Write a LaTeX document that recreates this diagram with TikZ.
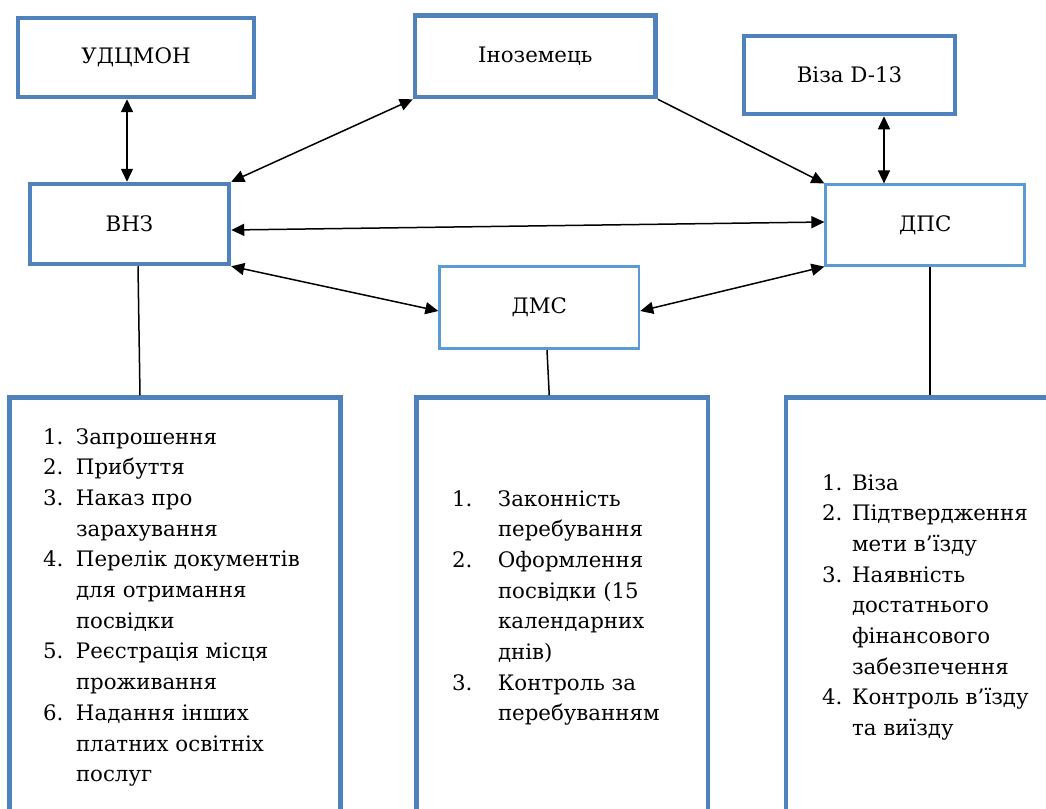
\documentclass[tikz,border=0pt]{standalone}
\usepackage{fontspec}
\newfontfamily\tnr{DejaVu Serif}[Scale=0.82]
\usetikzlibrary{arrows.meta}
\definecolor{thickblue}{HTML}{4F81BD}
\definecolor{thinblue}{HTML}{5B9BD5}
\begin{document}
\begin{tikzpicture}[x=1pt,y=-1pt,
  every node/.style={font=\tnr\fontsize{26}{30.7}\selectfont},
  box/.style={draw=thickblue,line width=4.5pt,rectangle,inner sep=0pt},
  tbox/.style={draw=thinblue,line width=2.6pt,rectangle,inner sep=0pt},
  lst/.style={anchor=base west,inner sep=0pt,outer sep=0pt},
  con/.style={line width=1.5pt,black},
  dbl/.style={con,{Triangle[length=13pt,width=12pt]}-{Triangle[length=13pt,width=12pt]}},
  sgl/.style={con,-{Triangle[length=13pt,width=12pt]}}]
\path[use as bounding box] (0,0) rectangle (1046,808);
\clip (0,0) rectangle (1046,808);

% upper boxes
\node[box,minimum width=235.7pt,minimum height=78.7pt] (udc) at (136,57.6) {УДЦМОН};
\node[box,minimum width=240.7pt,minimum height=81.5pt] (inoz) at (535.3,56.3) {Іноземець};
\node[box,minimum width=211pt,minimum height=78pt] (viza) at (849.5,75) {Віза D-13};
\node[box,minimum width=199pt,minimum height=80pt] (vnz) at (129.5,224) {ВНЗ};
\node[tbox,minimum width=199pt,minimum height=80.6pt] (dps) at (925.2,225) {ДПС};
\node[tbox,minimum width=199.3pt,minimum height=82.4pt] (dms) at (539.3,307.5) {ДМС};

% lower boxes
\node[box,minimum width=331pt,minimum height=440pt] (lbox) at (175,617.5) {};
\node[box,minimum width=291.5pt,minimum height=440pt] (mbox) at (562.25,617.5) {};
\node[box,minimum width=300pt,minimum height=440pt] (rbox) at (936,617.5) {};

% lists
\node[lst] (llist) at (43,444) {\begin{tabular}[t]{@{}p{33pt}@{}l@{}}
1. & Запрошення\\
2. & Прибуття\\
3. & Наказ про\\
   & зарахування\\
4. & Перелік документів\\
   & для отримання\\
   & посвідки\\
5. & Реєстрація місця\\
   & проживання\\
6. & Надання інших\\
   & платних освітніх\\
   & послуг
\end{tabular}};
\node[lst] (mlist) at (452,506) {\begin{tabular}[t]{@{}p{46pt}@{}l@{}}
1. & Законність\\
   & перебування\\
2. & Оформлення\\
   & посвідки (15\\
   & календарних\\
   & днів)\\
3. & Контроль за\\
   & перебуванням
\end{tabular}};
\node[lst] (rlist) at (822,490) {\begin{tabular}[t]{@{}p{30pt}@{}l@{}}
1. & Віза\\
2. & Підтвердження\\
   & мети в’їзду\\
3. & Наявність\\
   & достатнього\\
   & фінансового\\
   & забезпечення\\
4. & Контроль в’їзду\\
   & та виїзду
\end{tabular}};

% connectors
\coordinate (a1) at ([xshift=-2.5pt]vnz.north);
\draw[dbl] (udc.south -| a1) -- (a1);
\draw[dbl] (vnz.north east) -- (inoz.south west);
\draw[sgl] (inoz.south east) -- (dps.north west);
\coordinate (a2) at ([xshift=34.5pt]viza.south);
\draw[dbl] (a2) -- (dps.north -| a2);
\draw[dbl] ([yshift=-6pt]vnz.east) -- ([yshift=3pt]dps.west);
\draw[dbl] (vnz.south east) -- ([yshift=-3.5pt]dms.west);
\draw[dbl] ([yshift=-3.5pt]dms.east) -- (dps.south west);
\draw[con] ([xshift=8.5pt]vnz.south) -- ([xshift=-35pt]lbox.north);
\draw[con] ([xshift=7.7pt]dms.south) -- ([xshift=-13pt]mbox.north);
\draw[con] ([xshift=4.8pt]dps.south) -- ([xshift=-6pt]rbox.north);
\end{tikzpicture}
\end{document}
